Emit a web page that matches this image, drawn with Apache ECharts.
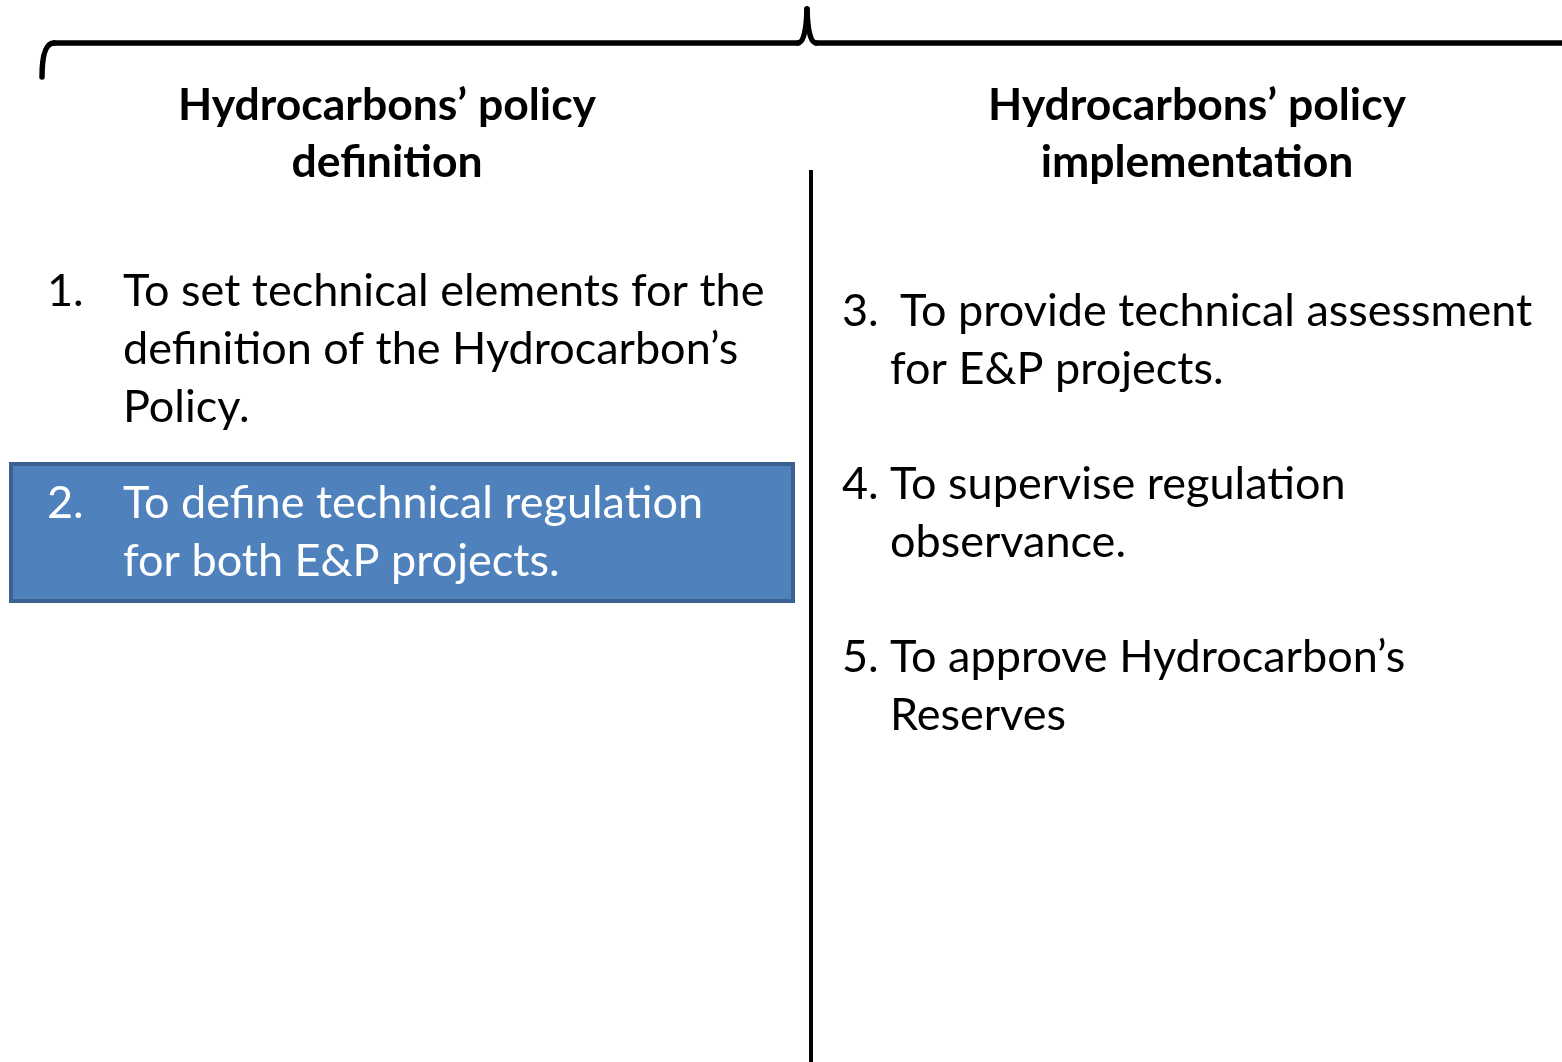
<!DOCTYPE html>
<html><head><meta charset="utf-8">
<script src="https://cdn.jsdelivr.net/npm/echarts@6/dist/echarts.min.js"></script>
<style>html,body{margin:0;padding:0;background:#fff}#c{width:1562px;height:1062px}</style>
</head><body><div id="c"></div>
<script>
const headings = [
  ["Hydrocarbons\u2019 policy", "definition"],
  ["Hydrocarbons\u2019 policy", "implementation"]
];
const leftItems = [
  {num: "1.", lines: ["To set technical elements for the", "definition of the Hydrocarbon\u2019s", "Policy."], highlight: false},
  {num: "2.", lines: ["To define technical regulation", "for both E&P projects."], highlight: true}
];
const rightItems = [
  {num: "3.", lines: ["To provide technical assessment", "for E&P projects."]},
  {num: "4.", lines: ["To supervise regulation", "observance."]},
  {num: "5.", lines: ["To approve Hydrocarbon\u2019s", "Reserves"]}
];

const FONT = "Lato, 'Open Sans', sans-serif";
const SZ = 45;
const HSZ = 44.5;
const LH = 58;
const g = [];
const br = {stroke:'#000', lineWidth:5.5, fill:null, lineCap:'round'};

// brace
g.push({type:'bezierCurve', shape:{x1:42,y1:77,cpx1:42,cpy1:43,x2:54,y2:43}, style:br});
g.push({type:'line', shape:{x1:54,y1:43,x2:798,y2:43}, style:br});
g.push({type:'bezierCurve', shape:{x1:798,y1:43,cpx1:806,cpy1:43,x2:807,y2:9}, style:br});
g.push({type:'bezierCurve', shape:{x1:807,y1:9,cpx1:808,cpy1:43,x2:816,y2:43}, style:br});
g.push({type:'line', shape:{x1:816,y1:43,x2:1562,y2:43}, style:br});
// divider
g.push({type:'line', shape:{x1:811,y1:170,x2:811,y2:1062}, style:{stroke:'#000', lineWidth:4}});
// highlight box
g.push({type:'rect', shape:{x:11,y:464,width:782,height:137}, style:{fill:'#4f81bd', stroke:'#3a6190', lineWidth:4}});

const hx = [387, 1197];
headings.forEach((h,i)=>{
  h.forEach((t,j)=>{
    g.push({type:'text', style:{text:t, x:hx[i], y:106+j*57, fill:'#000',
      font:'bold '+HSZ+'px '+FONT, align:'center', verticalAlign:'middle'}});
  });
});

const leftY = [291, 503];
leftItems.forEach((it,i)=>{
  const col = it.highlight ? '#fff' : '#000';
  g.push({type:'text', style:{text:it.num, x:47, y:leftY[i], fill:col, font:SZ+'px '+FONT, verticalAlign:'middle'}});
  it.lines.forEach((t,j)=>{
    g.push({type:'text', style:{text:t, x:123, y:leftY[i]+j*LH, fill:col, font:SZ+'px '+FONT, verticalAlign:'middle'}});
  });
});

const rightY = [311, 484, 657];
rightItems.forEach((it,i)=>{
  g.push({type:'text', style:{text:it.num, x:842, y:rightY[i], fill:'#000', font:SZ+'px '+FONT, verticalAlign:'middle'}});
  it.lines.forEach((t,j)=>{
    const x = j===0 ? (i===0 ? 900 : 890) : 890;
    g.push({type:'text', style:{text:t, x:x, y:rightY[i]+j*LH, fill:'#000', font:SZ+'px '+FONT, verticalAlign:'middle'}});
  });
});

const chart = echarts.init(document.getElementById('c'), null, {renderer:'canvas'});
chart.setOption({animation:false, graphic:{elements:g}});
</script></body></html>
